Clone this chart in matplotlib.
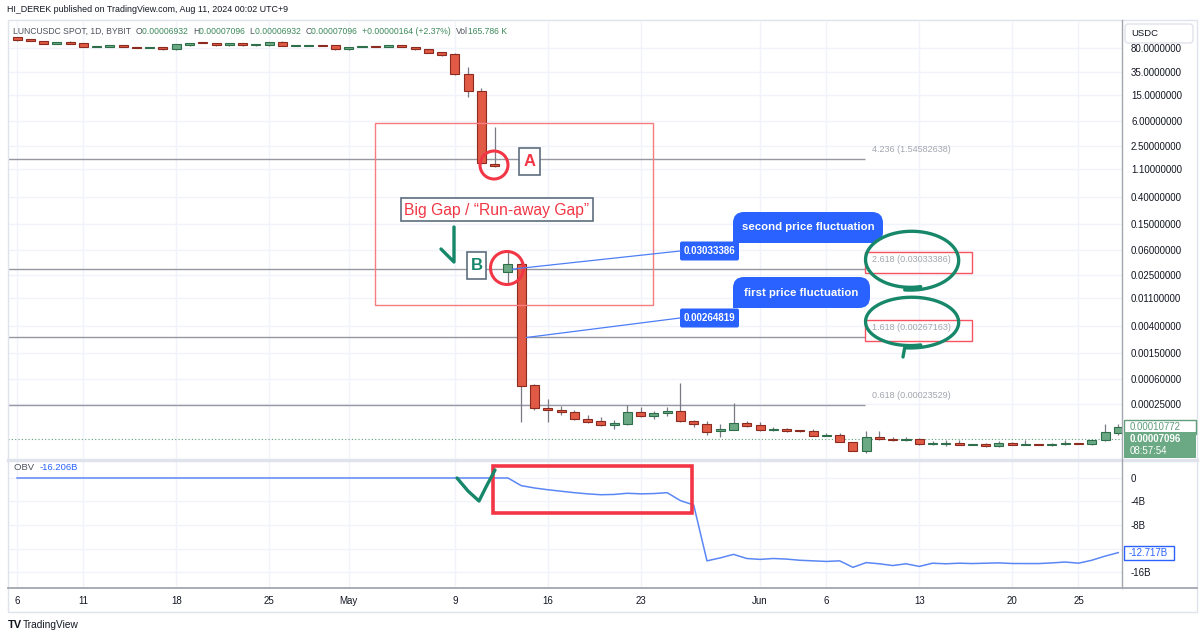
import numpy as np
import matplotlib
matplotlib.use('Agg')
import matplotlib.pyplot as plt
import matplotlib.ticker as mticker
from matplotlib.patches import Rectangle, FancyBboxPatch, Circle

plt.rcParams['font.family'] = ['Liberation Sans', 'DejaVu Sans']

W, H = 1200, 638

# daily candles, 6 Apr .. 28 Jun (index 0 = 6 Apr)
day_ticks = [0, 5, 12, 19, 25, 33, 40, 47, 56, 61, 68, 75, 80]
day_labels = ['6', '11', '18', '25', 'May', '9', '16', '23', 'Jun', '6', '13', '20', '25']

opens = [120, 112, 104, 94, 101, 97, 84, 84, 90, 84, 82.5, 84, 78, 90, 101, 97, 90, 97, 90, 90,
         101, 88, 88, 90, 90, 78, 85, 87, 84, 90, 84, 78, 70, 65.6, 32.2, 17.6, 1.30, 0.0275, 0.0366,
         0.00048, 0.000211, 0.000197, 0.000183, 0.000143, 0.000133, 0.000115, 0.00012, 0.000183,
         0.000159, 0.000177, 0.00019, 0.000133, 0.00012, 0.000093, 0.0000965, 0.000124, 0.000115,
         0.000098, 0.0001, 0.0000965, 0.000093, 0.0000793, 0.0000807, 0.0000629, 0.0000457,
         0.0000752, 0.00007, 0.0000688, 0.00007, 0.0000596, 0.0000596, 0.0000607, 0.0000576,
         0.0000586, 0.0000546, 0.0000607, 0.0000576, 0.0000586, 0.0000576, 0.0000596, 0.0000607,
         0.0000586, 0.0000676, 0.0000867]
closes = [108, 104, 94, 101, 94, 84, 87, 90, 84, 82.5, 84, 78, 94, 97, 97, 90, 97, 90, 94, 101,
          87, 90, 90, 87, 78, 84, 87, 85, 90, 84, 78, 68, 63, 32.2, 17.6, 1.34, 1.20, 0.0366, 0.00047,
          0.000211, 0.000197, 0.000183, 0.000143, 0.000128, 0.000115, 0.000124, 0.000183, 0.000159,
          0.000177, 0.00019, 0.000133, 0.00012, 0.0000898, 0.0001, 0.000124, 0.000111, 0.0000965,
          0.0001, 0.000093, 0.000093, 0.0000779, 0.0000807, 0.0000629, 0.0000457, 0.0000752,
          0.00007, 0.0000676, 0.00007, 0.0000586, 0.0000607, 0.0000607, 0.0000566, 0.0000586,
          0.0000546, 0.0000607, 0.0000576, 0.0000586, 0.0000576, 0.0000586, 0.0000607, 0.0000596,
          0.0000676, 0.0000898, 0.000107]
highs = [122, 113, 105, 102, 103, 98, 88, 91, 91, 85, 85, 85, 95, 99, 102, 99, 98, 98, 95, 102,
         103, 91, 91, 91, 91, 85, 88, 88, 91, 91, 85, 79, 71, 67, 41.4, 19.5, 4.86, 0.058, 0.040,
         0.000497, 0.000292, 0.000227, 0.000197, 0.000165, 0.000154, 0.000138, 0.000235, 0.000219,
         0.00019, 0.000219, 0.000515, 0.000138, 0.000133, 0.00012, 0.000252, 0.000133, 0.000128,
         0.000107, 0.000104, 0.000098, 0.0001, 0.0000867, 0.0000867, 0.0000629, 0.000093,
         0.000093, 0.0000752, 0.0000766, 0.0000726, 0.0000652, 0.0000676, 0.0000676, 0.0000586,
         0.0000607, 0.0000652, 0.000064, 0.0000676, 0.0000586, 0.0000607, 0.0000676, 0.0000607,
         0.0000676, 0.00012, 0.00012]
lows = [106, 103, 93, 93, 93, 83, 83, 83, 83, 82, 82, 77, 77, 89, 96, 89, 89, 89, 89, 88,
        86, 87, 87, 86, 77, 77, 84, 84, 83, 83, 77, 67, 62, 31, 14.2, 1.3, 1.18, 0.0185, 0.000128,
        0.000197, 0.000128, 0.000165, 0.000138, 0.000124, 0.000111, 0.0001, 0.000115, 0.000154,
        0.000143, 0.000159, 0.000128, 0.000107, 0.0000807, 0.0000752, 0.0000965, 0.000107,
        0.000093, 0.000093, 0.000092, 0.000092, 0.0000779, 0.0000779, 0.0000629, 0.0000457,
        0.0000426, 0.0000676, 0.0000652, 0.0000652, 0.0000566, 0.0000566, 0.0000556, 0.0000566,
        0.0000566, 0.0000527, 0.0000527, 0.0000566, 0.0000566, 0.0000566, 0.0000556, 0.0000566,
        0.0000586, 0.0000566, 0.0000652, 0.0000807]

# on-balance volume, billions
obv = [0] * 38 + [-1.3, -1.7, -2.0, -2.25, -2.5, -2.7, -2.85, -2.8, -2.6, -2.7, -2.65, -2.5,
                  -3.85, -4.6, -14.1, -13.6, -13.0, -13.7, -13.85, -13.7, -13.8, -14.0, -14.1,
                  -14.2, -14.1, -15.2, -14.4, -14.6, -14.9, -14.6, -15.05, -14.5, -14.6, -14.5,
                  -14.56, -14.5, -14.45, -14.55, -14.56, -14.56, -14.45, -14.3, -14.5, -14.0,
                  -13.3, -12.7]

price_ticks = [80, 35, 15, 6, 2.5, 1.1, 0.4, 0.15, 0.06, 0.025, 0.011, 0.004, 0.0015, 0.0006, 0.00025]
obv_ticks = [0, -4, -8, -12, -16]
obv_tick_labels = ['0', '-4B', '-8B', '', '-16B']   # -12B sits under the last-value tag

fib_levels = ['4.236', '2.618', '1.618', '0.618']
fib_prices = [1.54582638, 0.03033386, 0.00267163, 0.00023529]
tag_prices = [0.03033386, 0.00264819]
last_close = 0.00007096
prev_tag = 0.00010772
obv_last = -12.717

DARK = '#131722'
RED, RED_E = '#e05a45', '#8b2a1e'
GRN, GRN_E = '#6aa984', '#2e6e4a'
BLUE = '#2962ff'
TEAL = '#17876a'
ALERT = '#f23645'
GRID = '#f0f3fa'

fig = plt.figure(figsize=(W / 100, H / 100), dpi=100)

# ---- price pane ----
ax = fig.add_axes([8 / W, 1 - 459 / H, 1114 / W, 437 / H])
ax.set_yscale('log')
ax.set_xlim(-0.68, 83.28)
ax.set_ylim(3.46e-5, 206)
for s in ax.spines.values():
    s.set_visible(False)
ax.yaxis.tick_right()
ax.set_yticks(price_ticks)
ax.set_yticklabels([f'{p:.7f}' if p >= 10 else f'{p:.8f}' for p in price_ticks])
ax.yaxis.set_minor_locator(mticker.NullLocator())
ax.tick_params(axis='y', length=0, pad=6.5, labelsize=7, labelcolor=DARK)
ax.set_xticks(day_ticks)
ax.tick_params(axis='x', length=0, labelbottom=False)
ax.grid(True, color=GRID, lw=1)
ax.set_axisbelow(True)

x = np.arange(len(opens))
o, c = np.array(opens), np.array(closes)
up = c >= o
lo, hi = np.minimum(o, c), np.maximum(o, c)
ax.vlines(x, lows, highs, color='#787b86', lw=0.9, zorder=2)
ax.bar(x, hi - lo, bottom=lo, width=0.68, color=np.where(up, GRN, RED),
       edgecolor=np.where(up, GRN_E, RED_E), linewidth=0.8, zorder=3)
ax.axhline(last_close, color='#5f9e7a', ls=(0, (1, 2)), lw=0.8, zorder=1)
ax.hlines(fib_prices, -0.68, 63.9, color='#9598a1', lw=1, zorder=1)

# ---- OBV pane ----
ob = fig.add_axes([8 / W, 1 - 588 / H, 1114 / W, 126 / H])
ob.set_xlim(-0.68, 83.28)
ob.set_ylim(-18.72, 2.72)
for s in ob.spines.values():
    s.set_visible(False)
ob.plot(x, obv, color='#5b87f5', lw=1.1)
ob.yaxis.tick_right()
ob.set_yticks(obv_ticks)
ob.set_yticklabels(obv_tick_labels)
ob.tick_params(axis='y', length=0, pad=6.5, labelsize=7, labelcolor=DARK)
ob.set_xticks(day_ticks)
ob.set_xticklabels(day_labels)
ob.tick_params(axis='x', length=0, pad=6, labelsize=7, labelcolor=DARK)
ob.grid(True, color=GRID, lw=1)
ob.set_axisbelow(True)

# ---- overlay in pixel coordinates ----
ov = fig.add_axes([0, 0, 1, 1], zorder=10)
ov.set_xlim(0, W)
ov.set_ylim(H, 0)
ov.axis('off')
ov.patch.set_alpha(0)


def px(a, xv, yv):
    X, Y = a.transData.transform((xv, yv))
    return X, H - Y


def chain(x0, y0, parts, size):
    t = ov.text(x0, y0, parts[0][0], color=parts[0][1], fontsize=size, va='center')
    for s, col in parts[1:]:
        t = ov.annotate(s, xy=(1, 0), xycoords=t, color=col, fontsize=size, va='bottom', ha='left')


# frame lines
ov.add_patch(Rectangle((8, 20), 1189, 592, fc='none', ec='#e0e3eb', lw=1))
ov.plot([8, 1197], [460, 460], color='#e0e3eb', lw=2.5)
ov.plot([1122, 1122], [20, 588], color='#a3a6af', lw=1)
ov.plot([8, 1197], [588, 588], color='#a3a6af', lw=1.3)

# titles
ov.text(7, 10, 'HI_DEREK published on TradingView.com, Aug 11, 2024 00:02 UTC+9',
        fontsize=6.4, color=DARK, va='center')
VAL = '#3d8a5a'
chain(13, 31, [('LUNCUSDC SPOT, 1D, BYBIT  ', '#50535e'), ('O', '#50535e'), ('0.00006932  ', VAL),
               ('H', '#50535e'), ('0.00007096  ', VAL), ('L', '#50535e'), ('0.00006932  ', VAL),
               ('C', '#50535e'), ('0.00007096  ', VAL), ('+0.00000164 (+2.37%)  ', VAL),
               ('Vol', '#50535e'), ('165.786 K', VAL)], 6.25)
chain(14, 467, [('OBV  ', '#50535e'), ('-16.206B', BLUE)], 6.8)

# right axis boxes
ov.add_patch(FancyBboxPatch((1125, 24), 68, 19, boxstyle='round,pad=0,rounding_size=3',
                            fc='white', ec='#e0e3eb', lw=1))
ov.text(1131, 33.5, 'USDC', fontsize=6.8, color=DARK, va='center')
_, yp = px(ax, 0, prev_tag)
ov.add_patch(Rectangle((1124, yp - 7), 72, 14, fc='white', ec='#5f9e7a', lw=1))
ov.text(1130, yp, f'{prev_tag:.8f}', fontsize=7, color='#5f9e7a', va='center')
ov.add_patch(Rectangle((1124, 432), 72, 26, fc='#6aa984', ec='none'))
ov.text(1130, 439, f'{last_close:.8f}', fontsize=7, color='white', va='center', fontweight='bold')
ov.text(1130, 451, '08:57:54', fontsize=7, color='white', va='center')
_, yo = px(ob, 0, obv_last)
ov.add_patch(Rectangle((1124, yo - 7), 50, 14, fc='white', ec=BLUE, lw=1))
ov.text(1129, yo, f'{obv_last:.3f}B', fontsize=7, color=BLUE, va='center')

# fib labels
for lvl, p in zip(fib_levels, fib_prices):
    _, yf = px(ax, 0, p)
    ov.text(872, yf - 9.5, f'{lvl} ({p:.8f})', fontsize=6.5, color='#a3a6af', va='center')
    if lvl in ('2.618', '1.618'):
        ov.add_patch(Rectangle((865, yf - 17), 107, 21, fc='none', ec='#f7525f', lw=1))

# price tags with leader lines
anchors = [(37.3, tag_prices[0]), (38.4, tag_prices[1])]
tag_y = [251, 318]
for (d, p), ty in zip(anchors, tag_y):
    ax0, ay0 = px(ax, d, p)
    ov.plot([ax0, 680], [ay0, ty], color='#4d7ef7', lw=0.9)
    ov.add_patch(FancyBboxPatch((680, ty - 9.5), 59, 19, boxstyle='round,pad=0,rounding_size=2',
                                fc=BLUE, ec='none'))
    ov.text(709.5, ty, f'{p:.8f}', fontsize=7, color='white', fontweight='bold',
            ha='center', va='center')


def bubble(x0, y0, w, h, text):
    ov.add_patch(FancyBboxPatch((x0, y0), w, h, boxstyle='round,pad=0,rounding_size=11',
                                fc=BLUE, ec='none'))
    ov.add_patch(Rectangle((x0, y0 + h - 11), 11, 11, fc=BLUE, ec='none'))
    ov.text(x0 + w / 2, y0 + h / 2, text, fontsize=8.2, color='white', fontweight='bold',
            ha='center', va='center')


bubble(733, 212, 150, 31, 'second price fluctuation')
bubble(733, 277, 137, 31, 'first price fluctuation')


# hand-drawn green loops
def loop(cx, cy, rx, ry, tail=None):
    t = np.linspace(1.35, 1.35 + 2 * np.pi + 0.35, 200)
    k = np.linspace(0.94, 1.04, t.size)
    xs = list(cx + rx * k * np.cos(t))
    ys = list(cy + ry * k * np.sin(t))
    if tail:
        xs.append(tail[0])
        ys.append(tail[1])
    ov.plot(xs, ys, color=TEAL, lw=2.4, solid_capstyle='round')


loop(911, 260, 47, 29)
loop(911, 322, 47, 25, tail=(903, 357))

# red drawing rectangle and gap annotations
ov.add_patch(Rectangle((375, 123), 278, 182, fc='none', ec='#f77c80', lw=1))
ov.add_patch(Circle((494, 165), 14, fc='none', ec=ALERT, lw=2.2))
ov.add_patch(Circle((507, 268), 16.5, fc='none', ec=ALERT, lw=2.2))
ov.add_patch(Rectangle((519, 148), 21, 27, fc='white', ec='#5d6d7e', lw=1.2))
ov.text(529.5, 162, 'A', fontsize=12, color=ALERT, fontweight='bold', ha='center', va='center')
ov.add_patch(Rectangle((467, 252), 19, 27, fc='white', ec='#5d6d7e', lw=1.2))
ov.text(476.5, 266, 'B', fontsize=12, color=TEAL, fontweight='bold', ha='center', va='center')
ov.add_patch(Rectangle((401, 198), 192, 23, fc='white', ec='#5d6d7e', lw=1.2))
ov.text(497, 210, 'Big Gap / \u201cRun-away Gap\u201d', fontsize=11.3, color=ALERT,
        ha='center', va='center')
ov.plot([441, 454, 454], [249, 262, 227], color=TEAL, lw=2.4, solid_capstyle='round')

# OBV pane annotations
ov.add_patch(Rectangle((493, 466), 199, 47, fc='none', ec=ALERT, lw=2.6))
ov.plot([457, 468, 479, 486, 495], [478, 491, 501, 487, 470], color=TEAL, lw=2.4,
        solid_capstyle='round')

# footer
ov.text(8, 625, 'TV', fontsize=8, fontweight='heavy', color=DARK, va='center')
ov.text(23, 625, 'TradingView', fontsize=7.3, color=DARK, va='center')

fig.savefig('out.png', dpi=100)
